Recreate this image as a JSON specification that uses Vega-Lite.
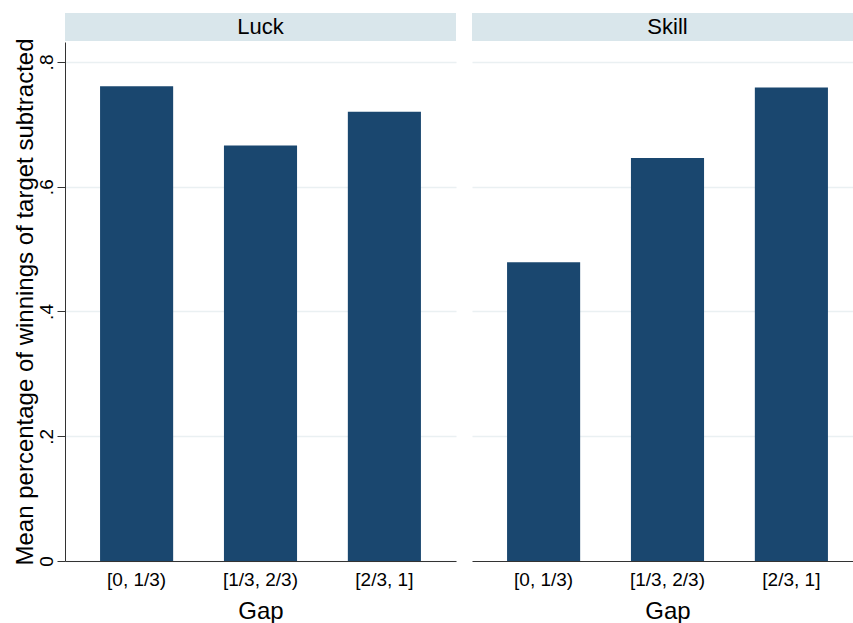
{
  "$schema": "https://vega.github.io/schema/vega-lite/v6.json",
  "background": "white",
  "padding": {"left": 12, "top": 13, "right": 0, "bottom": 0},
  "datasets": {
    "bars": [
      {"panel": "Luck", "gap": "[0, 1/3)", "value": 0.761},
      {"panel": "Luck", "gap": "[1/3, 2/3)", "value": 0.666},
      {"panel": "Luck", "gap": "[2/3, 1]", "value": 0.720},
      {"panel": "Skill", "gap": "[0, 1/3)", "value": 0.479},
      {"panel": "Skill", "gap": "[1/3, 2/3)", "value": 0.646},
      {"panel": "Skill", "gap": "[2/3, 1]", "value": 0.759}
    ]
  },
  "config": {
    "font": "Liberation Sans",
    "view": {"stroke": null},
    "axis": {
      "domainColor": "#333333",
      "tickColor": "#333333",
      "labelColor": "#000000",
      "titleColor": "#000000",
      "titleFontWeight": "normal",
      "gridColor": "#EAF0F2",
      "gridWidth": 1.3
    }
  },
  "spacing": 16,
  "hconcat": [
    {
      "bounds": "flush",
      "spacing": 1,
      "vconcat": [
        {
          "width": 391,
          "height": 28,
          "view": {"fill": "#D9E6EB", "stroke": null},
          "data": {"name": "bars"},
          "transform": [
            {"filter": "datum.panel === 'Luck'"},
            {"aggregate": [{"op": "count", "as": "n"}], "groupby": ["panel"]}
          ],
          "mark": {"type": "text", "fontSize": 22, "color": "#000000", "align": "center", "baseline": "middle"},
          "encoding": {"text": {"field": "panel", "type": "nominal"}}
        },
        {
          "width": 391,
          "height": 519,
          "data": {"name": "bars"},
          "transform": [{"filter": "datum.panel === 'Luck'"}],
          "mark": {"type": "bar", "color": "#1A476F"},
          "encoding": {
            "x": {
              "field": "gap",
              "type": "nominal",
              "sort": ["[0, 1/3)", "[1/3, 2/3)", "[2/3, 1]"],
              "scale": {"paddingInner": 0.41, "paddingOuter": 0.283},
              "axis": {
                "title": "Gap",
                "titleFontSize": 24,
                "titlePadding": 10,
                "labelFontSize": 19,
                "labelAngle": 0,
                "labelPadding": 9,
                "ticks": false,
                "grid": false
              }
            },
            "y": {
              "field": "value",
              "type": "quantitative",
              "scale": {"domain": [0, 0.832], "nice": false},
              "axis": {
                "title": "Mean percentage of winnings of target subtracted",
                "titleFontSize": 24,
                "titlePadding": 0,
                "values": [0, 0.2, 0.4, 0.6, 0.8],
                "labelExpr": "datum.value == 0 ? '0' : replace(format(datum.value, '.1f'), '0.', '.')",
                "labelFontSize": 19,
                "labelAngle": -90,
                "labelAlign": "center",
                "labelBaseline": "alphabetic",
                "labelPadding": 5,
                "tickSize": 8,
                "grid": true
              }
            }
          }
        }
      ]
    },
    {
      "bounds": "flush",
      "spacing": 1,
      "vconcat": [
        {
          "width": 391,
          "height": 28,
          "view": {"fill": "#D9E6EB", "stroke": null},
          "data": {"name": "bars"},
          "transform": [
            {"filter": "datum.panel === 'Skill'"},
            {"aggregate": [{"op": "count", "as": "n"}], "groupby": ["panel"]}
          ],
          "mark": {"type": "text", "fontSize": 22, "color": "#000000", "align": "center", "baseline": "middle"},
          "encoding": {"text": {"field": "panel", "type": "nominal"}}
        },
        {
          "width": 391,
          "height": 519,
          "data": {"name": "bars"},
          "transform": [{"filter": "datum.panel === 'Skill'"}],
          "mark": {"type": "bar", "color": "#1A476F"},
          "encoding": {
            "x": {
              "field": "gap",
              "type": "nominal",
              "sort": ["[0, 1/3)", "[1/3, 2/3)", "[2/3, 1]"],
              "scale": {"paddingInner": 0.41, "paddingOuter": 0.283},
              "axis": {
                "title": "Gap",
                "titleFontSize": 24,
                "titlePadding": 10,
                "labelFontSize": 19,
                "labelAngle": 0,
                "labelPadding": 9,
                "ticks": false,
                "grid": false
              }
            },
            "y": {
              "field": "value",
              "type": "quantitative",
              "scale": {"domain": [0, 0.832], "nice": false},
              "axis": {
                "title": null,
                "values": [0.2, 0.4, 0.6, 0.8],
                "labels": false,
                "ticks": false,
                "domain": false,
                "grid": true
              }
            }
          }
        }
      ]
    }
  ]
}
